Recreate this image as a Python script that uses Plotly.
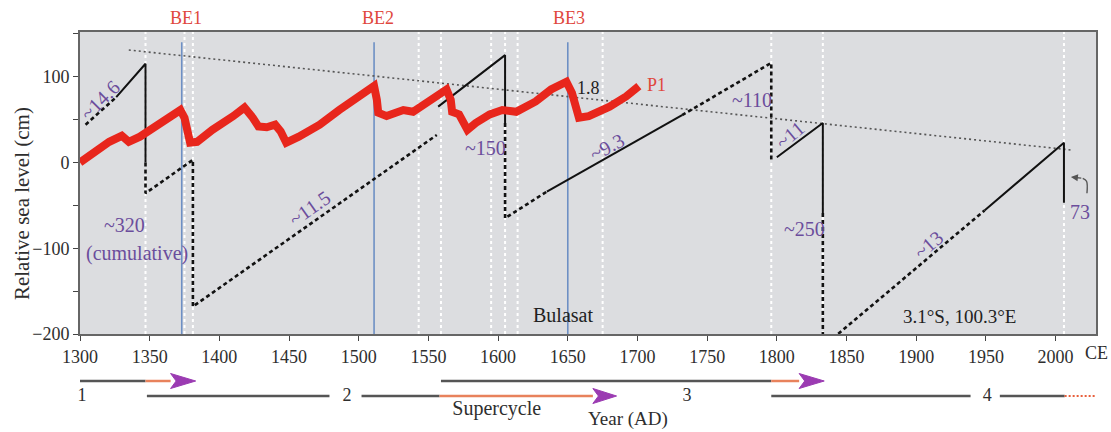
import plotly.graph_objects as go

# ---------------- data ----------------
# P1 relative sea-level record (year AD, cm)
p1_years = [1300, 1314, 1321, 1330, 1335, 1343, 1355, 1364, 1372, 1375, 1379, 1384,
            1395, 1410, 1418, 1424, 1428, 1434, 1440, 1444, 1448, 1457, 1472, 1486,
            1500, 1511, 1513, 1514, 1520, 1532, 1539, 1551, 1563, 1566, 1567, 1572,
            1578, 1584, 1594, 1603, 1613, 1627, 1638, 1649, 1653, 1658, 1665, 1680,
            1692, 1701]
p1_level = [0, 17, 24, 31, 24, 30, 42, 52, 61, 52, 23, 24,
            38, 54, 64, 52, 42, 41, 44, 36, 23, 30, 44, 61,
            77, 89, 73, 58, 54, 61, 59, 73, 85, 73, 59, 56,
            38, 46, 56, 61, 59, 71, 85, 94, 81, 52, 54, 65,
            77, 89]

# sawtooth reconstruction: solid (observed) and dotted (inferred) pieces
solid_pieces = [
    ([1326, 1347, 1347], [76, 115, 0]),
    ([1557, 1605, 1605], [65, 125, 46]),
    ([1635, 1732], [-34, 55]),
    ([1800, 1833, 1833], [6, 46, -59]),
    ([1949, 2006, 2006], [-56, 23, -47]),
]
dotted_pieces = [
    ([1304, 1326], [44, 76]),
    ([1347, 1347, 1381, 1381, 1556], [0, -36, 3, -168, 32]),
    ([1605, 1605, 1635], [46, -65, -34]),
    ([1732, 1796, 1796], [55, 116, 1]),
    ([1833, 1833, 1949], [-59, -215, -56]),
]

# long-term trend
trend_years = [1335, 2011]
trend_level = [131, 14.5]

# event markers
be_names = ["BE1", "BE2", "BE3"]
be_years = [1373, 1511, 1650]
be_label_years = [1376, 1514, 1651]
be_top = 140
white_years = [1347, 1375, 1381, 1543, 1559, 1595, 1605, 1614, 1675, 1796, 1833, 2006]

# rate / magnitude labels: text, year, level, angle
rate_text = ["~14.6", "~320", "(cumulative)", "~11.5", "~150", "~9.3", "~110",
             "~11", "~250", "~13", "73"]
rate_year = [1314.4, 1332, 1341, 1465, 1590.6, 1678, 1782, 1809.4, 1820, 1908.5, 2017.5]
rate_level = [73, -73, -106, -53, 17, 18, 73, 32, -78, -96, -58]
rate_angle = [-45, 0, 0, -35, 0, -28, 0, -40, 0, -41, 0]

x_ticks = list(range(1300, 2001, 50))

# cycle timeline below the axis: (row, gray start, gray end, orange end, arrow tip)
arrow_rows = [
    (1, 1300, 1347, 1365, 1383),
    (1, 1559, 1796, 1816, 1834),
    (2, 1502, 1558, 1668, 1685),
]
plain_rows = [(2, 1348, 1479), (2, 1796, 1939), (2, 1960, 2006.5)]
cycle_numbers = ["1", "2", "3", "4"]
cycle_number_years = [1301.5, 1491.5, 1735.5, 1951]
future_segment = (2006.5, 2029)

# ---------------- styling ----------------
SERIF = "Liberation Serif"
PURPLE = "#6b4d9c"
RED = "#e8261c"
RED_TXT = "#e0473d"
BLUE = "#6d8fc4"
ORANGE = "#e8825c"
ARROW = "#9b3bb2"
GRAY = "#555555"
TXT = "#2e2e2e"

fig = go.Figure()

# trend line
fig.add_trace(go.Scatter(x=trend_years, y=trend_level, mode="lines",
                         line=dict(color="#555", width=1.6, dash="2px,3px"),
                         hoverinfo="skip"))

for xs, ys in dotted_pieces:
    fig.add_trace(go.Scatter(x=xs, y=ys, mode="lines",
                             line=dict(color="#111", width=2.6, dash="4px,3px"),
                             hoverinfo="skip"))
for xs, ys in solid_pieces:
    fig.add_trace(go.Scatter(x=xs, y=ys, mode="lines",
                             line=dict(color="#111", width=2),
                             hoverinfo="skip"))

# P1 record
fig.add_trace(go.Scatter(x=p1_years, y=p1_level, mode="lines",
                         line=dict(color=RED, width=8), hoverinfo="skip"))

# curved pointer to the 73 cm drop
fig.add_trace(go.Scatter(x=[2022.5, 2022.2, 2019.5], y=[-36, -22, -18.5], mode="lines",
                         line=dict(color="#555", width=1.4, shape="spline"),
                         hoverinfo="skip"))

# timeline rows in the lower panel
for row, g0, g1, o1, tip in arrow_rows:
    fig.add_trace(go.Scatter(x=[g0, g1], y=[row, row], mode="lines", xaxis="x2", yaxis="y2",
                             line=dict(color=GRAY, width=2.5), hoverinfo="skip"))
    fig.add_trace(go.Scatter(x=[g1, o1], y=[row, row], mode="lines", xaxis="x2", yaxis="y2",
                             line=dict(color=ORANGE, width=2.5), hoverinfo="skip"))
    fig.add_trace(go.Scatter(x=[o1, tip, o1, o1 + 4, o1], y=[row - 0.5, row, row + 0.5, row, row - 0.5],
                             mode="lines", fill="toself", fillcolor=ARROW, xaxis="x2", yaxis="y2",
                             line=dict(color=ARROW, width=1), hoverinfo="skip"))
for row, g0, g1 in plain_rows:
    fig.add_trace(go.Scatter(x=[g0, g1], y=[row, row], mode="lines", xaxis="x2", yaxis="y2",
                             line=dict(color=GRAY, width=2.5), hoverinfo="skip"))
fig.add_trace(go.Scatter(x=list(future_segment), y=[2, 2], mode="lines", xaxis="x2", yaxis="y2",
                         line=dict(color="#e8603c", width=2, dash="2px,2px"), hoverinfo="skip"))
fig.add_trace(go.Scatter(x=cycle_number_years, y=[2] * 4, mode="text", text=cycle_numbers,
                         xaxis="x2", yaxis="y2", textfont=dict(family=SERIF, size=18, color=TXT),
                         hoverinfo="skip", cliponaxis=False))
fig.add_trace(go.Scatter(x=[1599], y=[2.93], mode="text", text=["Supercycle"],
                         xaxis="x2", yaxis="y2", textfont=dict(family=SERIF, size=20, color=TXT),
                         hoverinfo="skip", cliponaxis=False))

# panel background and vertical markers
shapes = [dict(type="rect", xref="x domain", yref="y domain", x0=0, x1=1, y0=0, y1=1,
               fillcolor="#dcdde0", line=dict(width=0), layer="below")]
for yr in white_years:
    shapes.append(dict(type="line", xref="x", yref="y domain", x0=yr, x1=yr, y0=0, y1=1,
                       line=dict(color="white", width=2, dash="3px,3px"), layer="below"))
for yr in be_years:
    shapes.append(dict(type="line", xref="x", yref="y", x0=yr, x1=yr, y0=-200, y1=be_top,
                       line=dict(color=BLUE, width=1.6), layer="below"))

annotations = []
for name, yr in zip(be_names, be_label_years):
    annotations.append(dict(text=name, x=yr, xref="x", y=1.035, yref="paper", showarrow=False,
                            xanchor="center", yanchor="middle",
                            font=dict(family=SERIF, size=18, color=RED_TXT)))
for t, xv, yv, ang in zip(rate_text, rate_year, rate_level, rate_angle):
    annotations.append(dict(text=t, x=xv, y=yv, xref="x", yref="y", showarrow=False,
                            textangle=ang, font=dict(family=SERIF, size=20, color=PURPLE)))
annotations += [
    dict(text="1.8", x=1665, y=87, xref="x", yref="y", showarrow=False,
         font=dict(family=SERIF, size=18, color="#222")),
    dict(text="P1", x=1714, y=90, xref="x", yref="y", showarrow=False,
         font=dict(family=SERIF, size=18, color=RED_TXT)),
    dict(text="Bulasat", x=1646.5, y=-178, xref="x", yref="y", showarrow=False,
         font=dict(family=SERIF, size=20, color="#222")),
    dict(text="3.1°S, 100.3°E", x=1931, y=-180, xref="x", yref="y", showarrow=False,
         font=dict(family=SERIF, size=19, color="#222")),
    dict(text="", x=2011, y=-17, xref="x", yref="y", ax=2019.5, ay=-18.5, axref="x", ayref="y",
         showarrow=True, arrowhead=2, arrowsize=1, arrowwidth=1.4, arrowcolor="#555"),
    dict(text="CE", x=1.0, y=-0.87, xref="paper", yref="y2", showarrow=False,
         xanchor="center", yanchor="middle", font=dict(family=SERIF, size=18, color=TXT)),
    dict(text="Year (AD)", x=1693, y=3.55, xref="x2", yref="y2", showarrow=False,
         font=dict(family=SERIF, size=19, color=TXT)),
    dict(text="Relative sea level (cm)", x=-0.057, y=0.57, xref="paper", yref="paper",
         xanchor="center", yanchor="middle",
         showarrow=False, textangle=-90, font=dict(family=SERIF, size=21, color=TXT)),
]

fig.update_layout(
    width=1111, height=432,
    margin=dict(l=80, r=15, t=32, b=0, autoexpand=False),
    paper_bgcolor="white",
    plot_bgcolor="white",
    showlegend=False,
    font=dict(family=SERIF, size=18, color=TXT),
    shapes=shapes,
    annotations=annotations,
    xaxis=dict(domain=[0, 1], anchor="y", range=[1300, 2029], tickvals=x_ticks,
               ticks="outside", ticklen=5, tickcolor="#444", showgrid=False, zeroline=False,
               showline=True, linecolor="#666", linewidth=2, mirror=True, automargin=False,
               tickfont=dict(family=SERIF, size=18, color=TXT)),
    yaxis=dict(domain=[0.245, 1], anchor="x", range=[-200, 152], tick0=0, dtick=100,
               ticks="outside", ticklen=5, tickcolor="#444", showgrid=False, zeroline=False,
               showline=True, linecolor="#666", linewidth=2, mirror=True, automargin=False,
               minor=dict(dtick=50, ticks="outside", ticklen=5, tickcolor="#444"),
               tickfont=dict(family=SERIF, size=18, color=TXT)),
    xaxis2=dict(domain=[0, 1], anchor="y2", matches="x", visible=False),
    yaxis2=dict(domain=[0, 0.245], anchor="x2", range=[4.4, -2.133], visible=False),
)

fig.write_html("out.html")
